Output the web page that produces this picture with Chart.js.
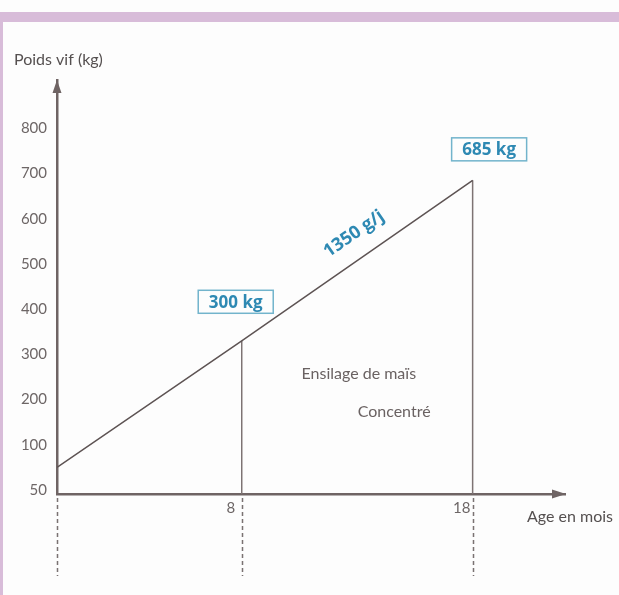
<!DOCTYPE html>
<html>
<head>
<meta charset="utf-8">
<script src="https://cdn.jsdelivr.net/npm/chart.js@4.4.1/dist/chart.umd.min.js"></script>
<style>
  html, body { margin: 0; padding: 0; background: #fdfdfd; width: 619px; height: 595px; overflow: hidden; }
  #band { position: absolute; left: 0; top: 12px; width: 619px; height: 10px; background: #d8bcd9; }
  #strip { position: absolute; left: 0; top: 22px; width: 3px; height: 573px; background: #d8bcd9; }
  canvas { position: absolute; left: 0; top: 0; }
</style>
</head>
<body>
<div id="band"></div>
<div id="strip"></div>
<canvas id="c" width="619" height="595" style="width:619px;height:595px"></canvas>
<script>
// ---- data ----
const ages = [0, 8, 18];
const weights = [50, 330, 685];
const boxLabels = ['', '300 kg', '685 kg'];
const yTickValues = [0, 100, 200, 300, 400, 500, 600, 700, 800];
const yTickLabels = ['50', '100', '200', '300', '400', '500', '600', '700', '800'];
const xTickValues = [8, 18];
const xTickLabels = ['8', '18'];
const slopeLabel = '1350 g/j';
const feedLabels = ['Ensilage de maïs', 'Concentré'];
const yTitle = 'Poids vif (kg)';
const xTitle = 'Age en mois';
const xRange = [0, 22];
const yRange = [-9, 907];

const AXIS = '#6f6464';
const LINE = '#5d5353';
const TEAL = '#2e89b3';
const TEAL_BORDER = '#72b4cc';
const GREY_TXT = '#6a6262';

const mainLine = ages.map((a, i) => ({ x: a, y: weights[i] }));
const dropDatasets = ages.slice(1).map((a, i) => ({
  data: [{ x: a, y: yRange[0] }, { x: a, y: weights[i + 1] }],
  borderColor: '#7d7373', borderWidth: 1.5, pointRadius: 0, fill: false
}));

const decor = {
  id: 'decor',
  afterDraw(chart) {
    const ctx = chart.ctx;
    const xs = chart.scales.x, ys = chart.scales.y;
    const ca = chart.chartArea;
    ctx.save();
    // arrowheads
    ctx.fillStyle = AXIS;
    ctx.beginPath();
    ctx.moveTo(ca.left, ca.top);
    ctx.lineTo(ca.left - 4.5, ca.top + 13);
    ctx.lineTo(ca.left + 4.5, ca.top + 13);
    ctx.closePath(); ctx.fill();
    ctx.beginPath();
    ctx.moveTo(ca.right + 1, ca.bottom);
    ctx.lineTo(ca.right - 13, ca.bottom - 4.5);
    ctx.lineTo(ca.right - 13, ca.bottom + 4.5);
    ctx.closePath(); ctx.fill();
    // dashed drop lines below axis
    ctx.strokeStyle = '#7a7272';
    ctx.lineWidth = 1.5;
    ctx.setLineDash([4, 3]);
    ages.forEach(a => {
      const px = Math.round(xs.getPixelForValue(a)) + 0.5;
      ctx.beginPath();
      ctx.moveTo(px, ca.bottom + 4);
      ctx.lineTo(px, ca.bottom + 82);
      ctx.stroke();
    });
    ctx.setLineDash([]);
    // boxed value labels
    const boxOffsets = [null, [-6, -39], [16.5, -31]];
    ctx.font = 'bold 17px "Open Sans"';
    ctx.textAlign = 'center';
    ctx.textBaseline = 'middle';
    ages.forEach((a, i) => {
      if (!boxLabels[i]) return;
      const cx = xs.getPixelForValue(a) + boxOffsets[i][0];
      const cy = ys.getPixelForValue(weights[i]) + boxOffsets[i][1];
      ctx.strokeStyle = TEAL_BORDER;
      ctx.lineWidth = 1.5;
      ctx.strokeRect(cx - 37.5, cy - 11.5, 75, 23);
      ctx.fillStyle = TEAL;
      ctx.fillText(boxLabels[i], cx, cy + 1);
    });
    // slope label
    const p0x = xs.getPixelForValue(ages[0]), p0y = ys.getPixelForValue(weights[0]);
    const p1x = xs.getPixelForValue(ages[2]), p1y = ys.getPixelForValue(weights[2]);
    const ang = Math.atan2(p1y - p0y, p1x - p0x);
    const t = 0.712;
    const mx = p0x + (p1x - p0x) * t, my = p0y + (p1y - p0y) * t;
    ctx.save();
    ctx.translate(mx + 1, my - 29);
    ctx.rotate(ang);
    ctx.font = 'bold 18px "Open Sans"';
    ctx.fillStyle = TEAL;
    ctx.fillText(slopeLabel, 0, 0);
    ctx.restore();
    // feed labels
    ctx.font = '16px Lato';
    ctx.fillStyle = GREY_TXT;
    ctx.fillText(feedLabels[0], xs.getPixelForValue(13.07), ys.getPixelForValue(256));
    ctx.fillText(feedLabels[1], xs.getPixelForValue(14.6), ys.getPixelForValue(173));
    // axis titles
    ctx.font = '16px Lato';
    ctx.fillStyle = '#555050';
    ctx.textAlign = 'left';
    ctx.fillText(yTitle, 14, 60);
    ctx.fillText(xTitle, 527, 517);
    ctx.restore();
  }
};

new Chart(document.getElementById('c'), {
  type: 'line',
  data: {
    datasets: [
      { data: mainLine, borderColor: LINE, borderWidth: 1.5, pointRadius: 0, fill: false, tension: 0 },
      ...dropDatasets
    ]
  },
  options: {
    responsive: false,
    animation: false,
    devicePixelRatio: 1,
    layout: { padding: { left: 0, top: 80, right: 54, bottom: 0 } },
    plugins: { legend: { display: false }, tooltip: { enabled: false } },
    scales: {
      x: {
        type: 'linear',
        min: xRange[0], max: xRange[1],
        afterFit(s) { s.height = 101; },
        afterBuildTicks(s) { s.ticks = xTickValues.map(v => ({ value: v })); },
        grid: { display: false, drawTicks: false },
        border: { display: true, color: AXIS, width: 2.5 },
        ticks: {
          callback: (v) => xTickLabels[xTickValues.indexOf(v)],
          font: { family: 'Lato', size: 15 },
          color: '#6d6666',
          padding: 5,
          labelOffset: -11,
          maxRotation: 0
        }
      },
      y: {
        type: 'linear',
        min: yRange[0], max: yRange[1],
        afterFit(s) { s.width = 57; },
        afterBuildTicks(s) { s.ticks = yTickValues.map(v => ({ value: v })); },
        grid: { display: false, drawTicks: false },
        border: { display: true, color: AXIS, width: 2.5 },
        ticks: {
          callback: (v) => yTickLabels[yTickValues.indexOf(v)],
          font: { family: 'Lato', size: 15 },
          color: '#6d6666',
          padding: 10
        }
      }
    }
  },
  plugins: [decor]
});
</script>
</body>
</html>
